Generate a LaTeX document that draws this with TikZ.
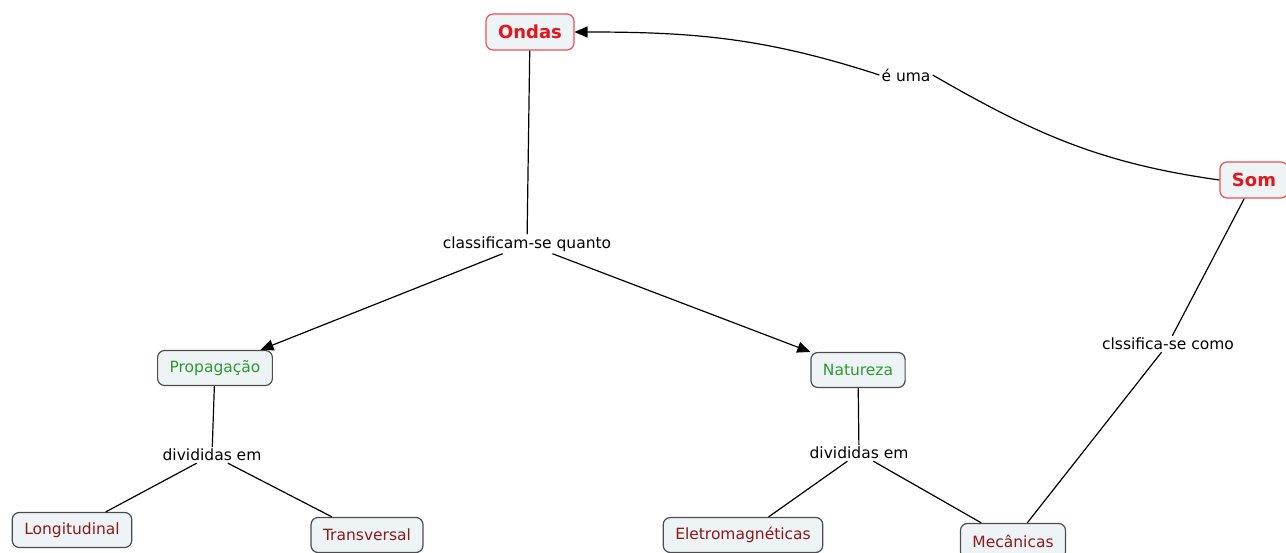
\documentclass[tikz,border=0pt]{standalone}
\usepackage{fontspec}
\setmainfont{DejaVu Sans}
\usetikzlibrary{arrows.meta}
\definecolor{cfill}{HTML}{EEF3F6}
\definecolor{cred}{HTML}{E8141B}
\definecolor{cgreen}{HTML}{2E9A2E}
\definecolor{cdred}{HTML}{8B1A1A}

\tikzset{
  concept/.style={draw=black!70, fill=cfill, rounded corners=7pt, line width=1.2pt,
    inner xsep=12pt, minimum height=35pt, font=\fontsize{15.5}{18}\selectfont},
  main/.style={concept, draw=cred!75, text=cred, minimum height=36pt,
    font=\fontsize{18}{21}\selectfont\bfseries},
  kind/.style={concept, text=cgreen},
  leaf/.style={concept, text=cdred},
  phrase/.style={inner sep=2pt, font=\fontsize{15.5}{18}\selectfont},
  link/.style={line width=1.2pt},
  arrow/.style={link, -{Triangle[length=13pt,width=11pt]}}
}

\begin{document}
\begin{tikzpicture}[x=1pt, y=-1pt]
      \useasboundingbox (0,0) rectangle (1286,553);

      % draw concepts
      \node[main] (ondas) at (530,32) {Ondas};
      \node[main] (som) at (1254,180) {Som};
      \node[kind] (propagacao) at (215,368) {Propagação};
      \node[kind] (natureza) at (858,370) {Natureza};
      \node[leaf] (longitudinal) at (72,530) {Longitudinal};
      \node[leaf] (transversal) at (367,535) {Transversal};
      \node[leaf] (eletro) at (743,535) {Eletromagnéticas};
      \node[leaf] (mecanicas) at (1013,541) {Mecânicas};

      % draw linking phrases
      \node[phrase] (euma) at (906,75) {é uma};
      \node[phrase] (classificam) at (527,244) {classificam-se quanto};
      \node[phrase] (divprop) at (212,455) {divididas em};
      \node[phrase] (divnat) at (859,453) {divididas em};
      \node[phrase] (clssifica) at (1168,344) {clssifica-se como};

      % draw connectors
      \draw[link] (ondas) -- (classificam);
      \draw[arrow] (classificam) -- (propagacao);
      \draw[arrow] (classificam) -- (natureza);
      \draw[link] (propagacao) -- (divprop);
      \draw[link] (divprop) -- (longitudinal);
      \draw[link] (divprop) -- (transversal);
      \draw[link] (natureza) -- (divnat);
      \draw[link] (divnat) -- (eletro);
      \draw[link] (divnat) -- (mecanicas);
      \draw[link] (som) -- (clssifica);
      \draw[link] (clssifica) -- (mecanicas);
      \draw[link] (som.west) to[out=172, in=-30] (euma.east);
      \draw[arrow] (euma.west) to[out=162, in=0] (ondas.east);

\end{tikzpicture}
\end{document}
